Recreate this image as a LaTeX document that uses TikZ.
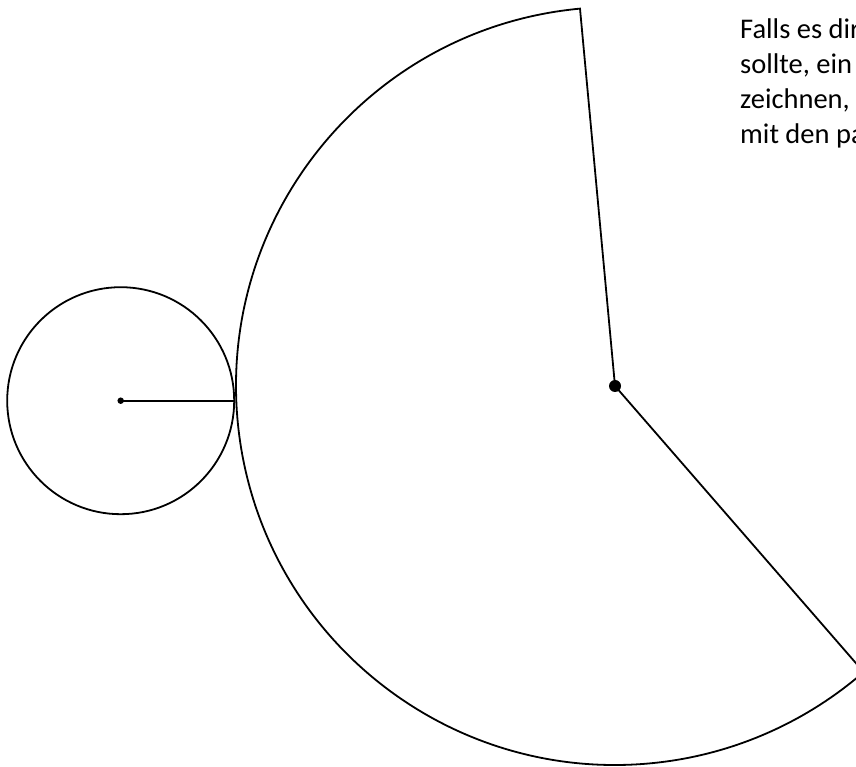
\documentclass[tikz,border=0pt]{standalone}
\usepackage{fontspec}
\setmainfont{Carlito}
\begin{document}
\begin{tikzpicture}[x=1pt,y=1pt,
  shape line/.style={draw=black, line width=1.8pt},
  textline/.style={anchor=base west, inner sep=0pt, font=\fontsize{28.5}{34.8}\selectfont},
  bigdot/.style={circle, fill=black, inner sep=0pt, minimum size=12pt},
  smalldot/.style={circle, fill=black, inner sep=0pt, minimum size=6.5pt}]
\useasboundingbox (0,0) rectangle (856,766);
\clip (0,0) rectangle (856,766);
% big sector
\coordinate (C) at (615,380);
\draw[shape line, line join=miter] (C) -- ++(95.3:379) arc[start angle=95.3, end angle=311, radius=379] -- cycle;
\node[bigdot] (cdot) at (C) {};
% small circle
\coordinate (S) at (120.7,365.3);
\draw[shape line] (S) circle[radius=113.5];
\coordinate (T) at (234.2,365.3);
\draw[shape line] (S) -- (T);
\node[smalldot] (sdot) at (S) {};
% text
\node[textline] (t1) at (740,727) {Falls es dir};
\node[textline] (t2) at (740,692.2) {sollte, ein};
\node[textline] (t3) at (740,657.4) {zeichnen,};
\node[textline] (t4) at (740,622.6) {mit den pa};
\end{tikzpicture}
\end{document}
